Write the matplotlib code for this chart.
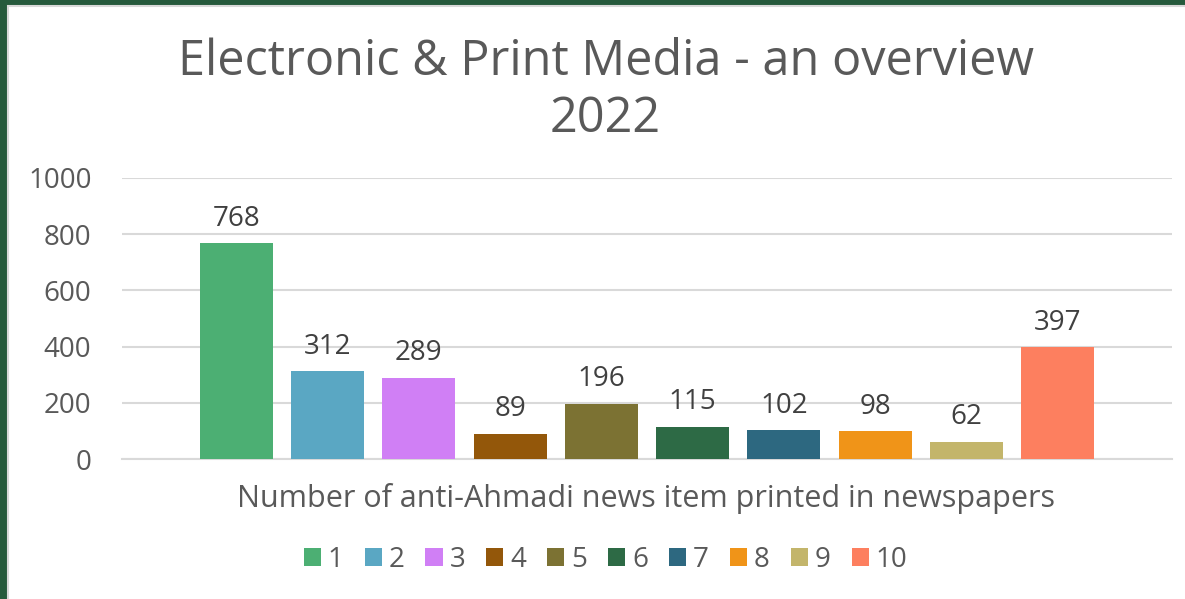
import matplotlib.pyplot as plt
from matplotlib.patches import Rectangle

# chart data
series = ['1', '2', '3', '4', '5', '6', '7', '8', '9', '10']
values = [768, 312, 289, 89, 196, 115, 102, 98, 62, 397]
colors = ['#4caf73', '#5aa7c3', '#d07ff5', '#93570a', '#7c7233',
          '#2d6a45', '#2d6880', '#f09418', '#c3b56b', '#fd7f5f']
yticks = [0, 200, 400, 600, 800, 1000]

title = 'Electronic & Print Media - an overview\n2022'
xlabel = 'Number of anti-Ahmadi news item printed in newspapers'

text_color = '#595959'
plt.rcParams['font.family'] = ['Open Sans', 'DejaVu Sans']

fig = plt.figure(figsize=(11.85, 5.99), dpi=100)
fig.patch.set_facecolor('#265a3c')
# white chart area inside the green frame (frame only on left and top)
fig.patches.append(Rectangle((8 / 1185, -0.05), 1.1, 1.05 - 6 / 599,
                             transform=fig.transFigure, facecolor='white',
                             edgecolor='#d9d9d9', linewidth=1.5, zorder=-10))

ax = fig.add_axes([122 / 1185, 1 - 459 / 599, (1172 - 122) / 1185, (459 - 178) / 599])
ax.set_facecolor('none')
ax.set_zorder(2)

bars = []
for i, (name, val, col) in enumerate(zip(series, values, colors)):
    b = ax.bar(i, val, width=0.8, color=col, label=name, zorder=3)
    bars.append(b)
    ax.text(i, val + 38, str(val), ha='center', va='bottom',
            fontsize=20, color='#404040')

ax.set_xlim(-1.25, 10.25)
ax.set_ylim(0, 1000)
ax.set_yticks(yticks)
ax.set_yticklabels([str(t) for t in yticks])
ax.set_xticks([])
ax.tick_params(axis='y', length=0, labelsize=20, labelcolor=text_color, pad=22)
ax.grid(axis='y', color='#d9d9d9', linewidth=1.5, zorder=0)
for s in ['top', 'right', 'left']:
    ax.spines[s].set_visible(False)
ax.spines['bottom'].set_color('#d9d9d9')
ax.spines['bottom'].set_linewidth(1.5)

fig.text(0.511, 1 - 91 / 599, title, ha='center', va='center',
         fontsize=35, color=text_color, linespacing=1.2)
fig.text(0.545, 1 - 498 / 599, xlabel, ha='center', va='center',
         fontsize=22, color=text_color)

fig.legend(handles=[b[0] for b in bars], labels=series, loc='center',
           bbox_to_anchor=(0.511, 1 - 560 / 599), ncol=10, frameon=False,
           fontsize=20, labelcolor=text_color, handlelength=0.62,
           handleheight=0.62, handletextpad=0.25, columnspacing=0.75)

fig.savefig('out.png', dpi=100, facecolor=fig.get_facecolor())
